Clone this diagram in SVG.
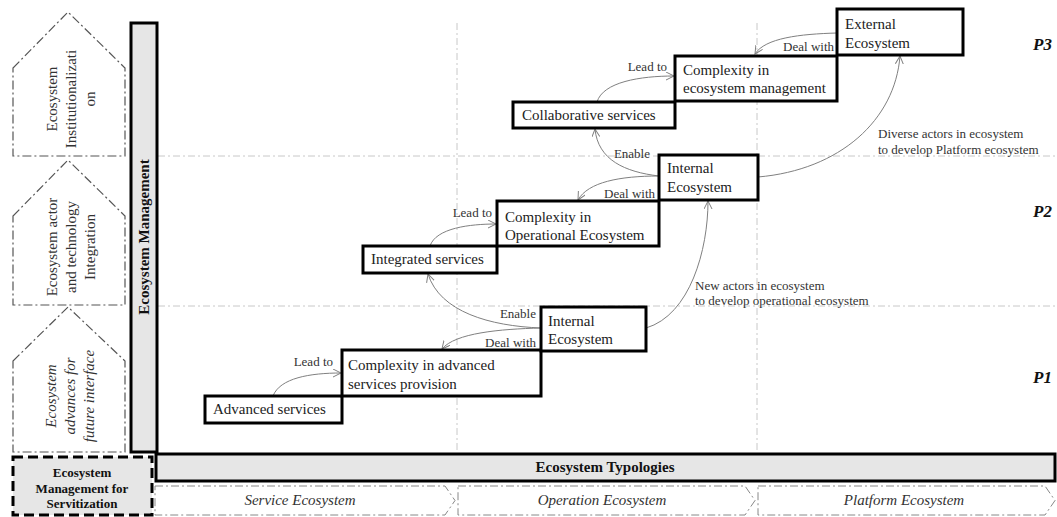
<svg xmlns="http://www.w3.org/2000/svg" width="1057" height="517" viewBox="0 0 1057 517">
<style>
text{font-family:"Liberation Serif","Times New Roman",serif;}
.grid{stroke:#c8c8c8;stroke-width:1;stroke-dasharray:7,3,2,3;fill:none;}
.pent{stroke:#555;stroke-width:1.2;stroke-dasharray:9,3,2,3;fill:#fff;}
.node{fill:#fff;stroke:#000;stroke-width:3;}
.bar{fill:#e6e6e6;stroke:#000;stroke-width:3;}
.nt{font-size:15px;fill:#222;}
.lbl{font-size:13px;fill:#333;}
.pt{font-size:15px;fill:#333;}
.conn{fill:none;stroke:#808080;stroke-width:1;marker-end:url(#arr);}
.chev{fill:#fff;stroke:#888;stroke-width:1;stroke-dasharray:8,3,2,3;}
.pl{font-size:17px;font-weight:bold;font-style:italic;fill:#111;}
</style>
<defs>
<marker id="arr" markerWidth="10" markerHeight="10" refX="8" refY="4" orient="auto" markerUnits="userSpaceOnUse"><path d="M0,0 L8,4 L0,8" fill="none" stroke="#808080" stroke-width="1"/></marker>
</defs>
<rect width="1057" height="517" fill="#fff"/>
<g id="grid">
<line class="grid" x1="457" y1="23" x2="457" y2="453"/>
<line class="grid" x1="757" y1="23" x2="757" y2="453"/>
<line class="grid" x1="158" y1="156" x2="1057" y2="156"/>
<line class="grid" x1="158" y1="306" x2="1057" y2="306"/>
</g>
<g id="stage-p3">
<path class="pent" d="M13,68 L68,12 L125,68 L125,156 L13,156 Z"/>
<text class="pt" transform="translate(0,99) rotate(-90)" text-anchor="middle"><tspan x="0" y="57">Ecosystem</tspan><tspan x="0" y="76">Institutionalizati</tspan><tspan x="0" y="95">on</tspan></text>
</g>
<g id="stage-p2">
<path class="pent" d="M13,216 L68,160 L125,216 L125,305 L13,305 Z"/>
<text class="pt" transform="translate(0,247) rotate(-90)" text-anchor="middle"><tspan x="0" y="57">Ecosystem actor</tspan><tspan x="0" y="76">and technology</tspan><tspan x="0" y="95">Integration</tspan></text>
</g>
<g id="stage-p1">
<path class="pent" d="M13,361 L68,307 L125,361 L125,452 L13,452 Z"/>
<text class="pt" font-style="italic" transform="translate(0,396) rotate(-90)" text-anchor="middle"><tspan x="0" y="56">Ecosystem</tspan><tspan x="0" y="75">advances for</tspan><tspan x="0" y="94">future interface</tspan></text>
</g>
<g id="eco-management">
<rect class="bar" x="131" y="23" width="26" height="429"/>
<text transform="translate(149,237) rotate(-90)" text-anchor="middle" font-size="15" font-weight="bold" fill="#111">Ecosystem Management</text>
</g>
<g id="eco-servitization">
<rect x="13" y="457" width="139" height="58" fill="#e6e6e6" stroke="#000" stroke-width="3" stroke-dasharray="10,5"/>
<text text-anchor="middle" font-size="13" font-weight="bold" fill="#111"><tspan x="82" y="477">Ecosystem</tspan><tspan x="82" y="493">Management for</tspan><tspan x="82" y="508">Servitization</tspan></text>
</g>
<g id="eco-typologies">
<rect class="bar" x="156" y="454" width="899" height="27"/>
<text x="605" y="472" text-anchor="middle" font-size="15" font-weight="bold" fill="#111">Ecosystem Typologies</text>
</g>
<g id="service-ecosystem">
<path class="chev" d="M155,486 L445,486 L455,500.5 L445,515 L155,515 Z"/>
<text x="300" y="505" text-anchor="middle" font-size="15" font-style="italic" fill="#333">Service Ecosystem</text>
</g>
<g id="operation-ecosystem">
<path class="chev" d="M458,486 L745,486 L755,500.5 L745,515 L458,515 Z"/>
<text x="602" y="505" text-anchor="middle" font-size="15" font-style="italic" fill="#333">Operation Ecosystem</text>
</g>
<g id="platform-ecosystem">
<path class="chev" d="M758,486 L1045,486 L1055,500.5 L1045,515 L758,515 Z"/>
<text x="904" y="505" text-anchor="middle" font-size="15" font-style="italic" fill="#333">Platform Ecosystem</text>
</g>
<g id="p-labels">
<text class="pl" x="1033" y="50">P3</text>
<text class="pl" x="1033" y="217">P2</text>
<text class="pl" x="1033" y="383">P1</text>
</g>
<g id="connectors">
<path class="conn" d="M273,396 C280,378 310,373 341,373"/>
<path class="conn" d="M541,328 C500,329 455,333 442,349"/>
<path class="conn" d="M541,328 C490,326 440,312 428,274"/>
<path class="conn" d="M646,328 C690,315 708,250 708,201"/>
<path class="conn" d="M430,246 C436,228 470,224 496,224"/>
<path class="conn" d="M659,176 C620,176 588,182 578,200"/>
<path class="conn" d="M659,176 C625,172 598,160 595,129"/>
<path class="conn" d="M758,177 C840,170 895,120 900,56"/>
<path class="conn" d="M597,102 C603,82 640,76 674,76"/>
<path class="conn" d="M837,33 C800,34 765,38 755,54"/>
<text class="lbl" x="333" y="366" text-anchor="end">Lead to</text>
<text class="lbl" x="536" y="347" text-anchor="end">Deal with</text>
<text class="lbl" x="536" y="318" text-anchor="end">Enable</text>
<text class="lbl"><tspan x="695" y="290">New actors in ecosystem</tspan><tspan x="695" y="305">to develop operational ecosystem</tspan></text>
<text class="lbl" x="492" y="217" text-anchor="end">Lead to</text>
<text class="lbl" x="655" y="198" text-anchor="end">Deal with</text>
<text class="lbl" x="650" y="158" text-anchor="end">Enable</text>
<text class="lbl"><tspan x="878" y="138">Diverse actors in ecosystem</tspan><tspan x="878" y="154">to develop Platform ecosystem</tspan></text>
<text class="lbl" x="667" y="71" text-anchor="end">Lead to</text>
<text class="lbl" x="834" y="51" text-anchor="end">Deal with</text>
</g>
<g id="advanced-services">
<rect class="node" x="205" y="396" width="137" height="27"/>
<text class="nt" x="213" y="414">Advanced services</text>
</g>
<g id="complexity-advanced">
<rect class="node" x="342" y="350" width="199" height="46"/>
<text class="nt"><tspan x="348" y="370">Complexity in advanced</tspan><tspan x="348" y="389">services provision</tspan></text>
</g>
<g id="internal-ecosystem-1">
<rect class="node" x="541" y="307" width="105" height="44"/>
<text class="nt"><tspan x="548" y="326">Internal</tspan><tspan x="548" y="344">Ecosystem</tspan></text>
</g>
<g id="integrated-services">
<rect class="node" x="363" y="246" width="134" height="27"/>
<text class="nt" x="371" y="264">Integrated services</text>
</g>
<g id="complexity-operational">
<rect class="node" x="497" y="201" width="162" height="45"/>
<text class="nt"><tspan x="505" y="222">Complexity in</tspan><tspan x="505" y="240">Operational Ecosystem</tspan></text>
</g>
<g id="internal-ecosystem-2">
<rect class="node" x="659" y="155" width="99" height="45"/>
<text class="nt"><tspan x="667" y="173">Internal</tspan><tspan x="667" y="192">Ecosystem</tspan></text>
</g>
<g id="collaborative-services">
<rect class="node" x="513" y="102" width="162" height="26"/>
<text class="nt" x="522" y="120">Collaborative services</text>
</g>
<g id="complexity-management">
<rect class="node" x="675" y="56" width="162" height="45"/>
<text class="nt"><tspan x="683" y="75">Complexity in</tspan><tspan x="683" y="93">ecosystem management</tspan></text>
</g>
<g id="external-ecosystem">
<rect class="node" x="837" y="9" width="126" height="46"/>
<text class="nt"><tspan x="845" y="29">External</tspan><tspan x="845" y="48">Ecosystem</tspan></text>
</g>
</svg>
